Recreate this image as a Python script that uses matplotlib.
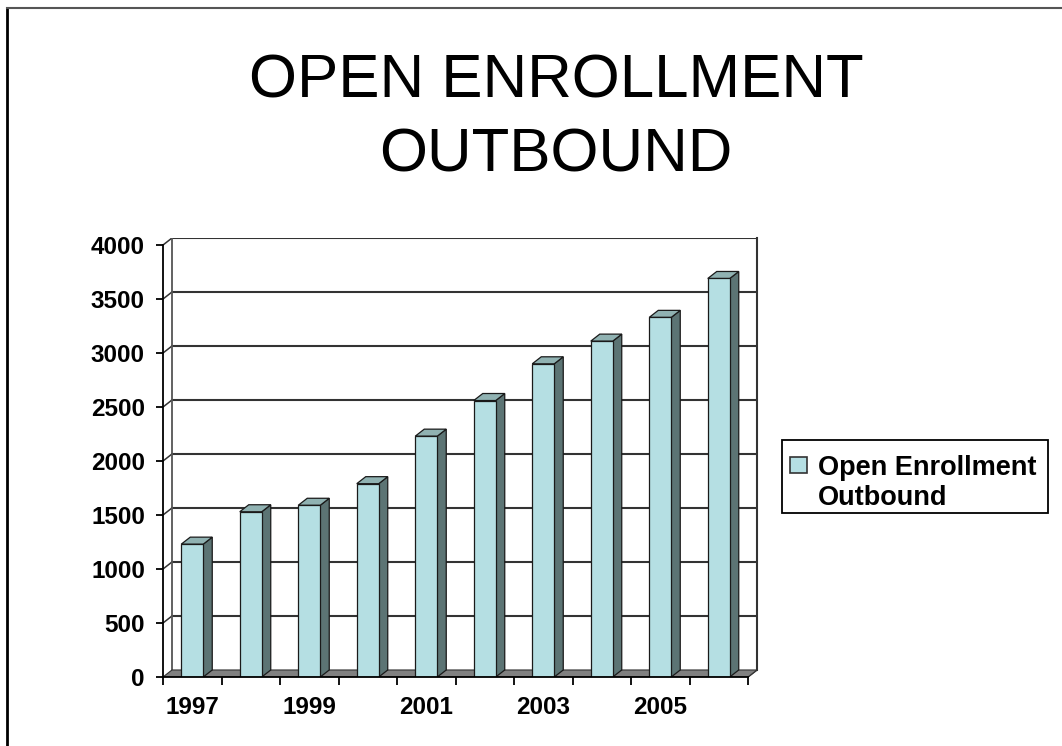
import matplotlib
matplotlib.use("Agg")
from matplotlib import pyplot as plt
from matplotlib.patches import Polygon, Rectangle
from matplotlib.lines import Line2D
import numpy as np

plt.rcParams['font.family'] = ['Liberation Sans', 'DejaVu Sans']

# data
years = [1997, 1998, 1999, 2000, 2001, 2002, 2003, 2004, 2005, 2006]
values = [1230, 1530, 1590, 1790, 2230, 2560, 2900, 3110, 3330, 3690]
y_ticks = [0, 500, 1000, 1500, 2000, 2500, 3000, 3500, 4000]
series_lines = ["Open Enrollment", "Outbound"]
title_lines = ["OPEN ENROLLMENT", "OUTBOUND"]

W, H = 1062, 746
face_col = "#b5dfe3"
side_col = "#5c7474"
top_col = "#90b2b2"
floor_col = "#808080"
grid_col = "#333333"

# depth offset of the fake 3D box
dx = 9 / 58.5
dy = 65.0
ymax = 4000

fig = plt.figure(figsize=(W / 100, H / 100), dpi=100)
ax = fig.add_axes([163 / W, (H - 677) / H, 594 / W, 439 / H])
n = len(years)
ax.set_xlim(0, n + dx)
ax.set_ylim(0, ymax + dy)
ax.patch.set_alpha(0)

# back wall grid + left wall diagonals
for v in y_ticks[1:]:
    ax.plot([dx, n + dx], [v + dy, v + dy], color=grid_col, lw=1.5, zorder=1)
    ax.plot([0, dx], [v, v + dy], color=grid_col, lw=1.1, zorder=1)
ax.plot([dx, dx], [dy, ymax + dy], color="#555555", lw=1.3, zorder=1)
ax.plot([n + dx, n + dx], [dy, ymax + dy], color=grid_col, lw=1.5, zorder=1, clip_on=False)
ax.plot([n, n + dx], [0, dy], color=grid_col, lw=1.1, zorder=1)

# floor
ax.add_patch(Polygon([(0, 0), (n, 0), (n + dx, dy), (dx, dy)], closed=True,
                     facecolor=floor_col, edgecolor="#333333", lw=0.8, zorder=2))

x = np.arange(n) + 0.5
bw = 0.376
bars = ax.bar(x, values, width=bw, color=face_col, edgecolor="#1a1a1a",
              lw=0.9, zorder=4)
for b in bars:
    x0 = b.get_x()
    x1 = x0 + b.get_width()
    h = b.get_height()
    ax.add_patch(Polygon([(x1, 0), (x1 + dx, dy), (x1 + dx, h + dy), (x1, h)],
                         closed=True, facecolor=side_col, edgecolor="#1a1a1a",
                         lw=0.9, zorder=3))
    ax.add_patch(Polygon([(x0, h), (x1, h), (x1 + dx, h + dy), (x0 + dx, h + dy)],
                         closed=True, facecolor=top_col, edgecolor="#1a1a1a",
                         lw=0.9, zorder=3))

# axes
for s in ["top", "right"]:
    ax.spines[s].set_visible(False)
ax.spines["left"].set_bounds(0, ymax)
ax.spines["bottom"].set_bounds(0, n)
for s in ["left", "bottom"]:
    ax.spines[s].set_linewidth(1.3)
    ax.spines[s].set_zorder(5)

ax.set_yticks(y_ticks)
ax.set_yticklabels([str(v) for v in y_ticks], fontsize=17.5, fontweight="bold")
ax.tick_params(axis="y", length=5, width=1.3, pad=8)

ax.set_xticks(np.arange(n + 1), minor=True)
ax.tick_params(axis="x", which="minor", length=6, width=1.3, direction="out")
ax.set_xticks(x[::2])
ax.set_xticklabels([str(y) for y in years[::2]], fontsize=17.5, fontweight="bold")
ax.tick_params(axis="x", which="major", length=0, pad=14)

# title
fig.text(556 / W, 1 - 97 / H, title_lines[0], ha="center", va="baseline", fontsize=44.5)
fig.text(556 / W, 1 - 172 / H, title_lines[1], ha="center", va="baseline", fontsize=44.5)

# legend, drawn by hand so the key sits by the first line
fig.add_artist(Rectangle((782 / W, 1 - 513 / H), 266 / W, 73 / H,
                         transform=fig.transFigure, facecolor="white",
                         edgecolor="black", lw=1.3))
fig.add_artist(Rectangle((790 / W, 1 - 473 / H), 17 / W, 16 / H,
                         transform=fig.transFigure, facecolor=face_col,
                         edgecolor="#333333", lw=1.2))
fig.text(818 / W, 1 - 475 / H, series_lines[0], ha="left", va="baseline",
         fontsize=19.5, fontweight="bold")
fig.text(818 / W, 1 - 505 / H, series_lines[1], ha="left", va="baseline",
         fontsize=19.5, fontweight="bold")

# outer frame (only top and left edge visible)
fig.add_artist(Line2D([7 / W, 7 / W], [0, 1 - 8 / H], color="black", lw=2))
fig.add_artist(Line2D([7 / W, 1], [1 - 8 / H, 1 - 8 / H], color="#555555", lw=1.5))

fig.savefig("out.png", dpi=100)
